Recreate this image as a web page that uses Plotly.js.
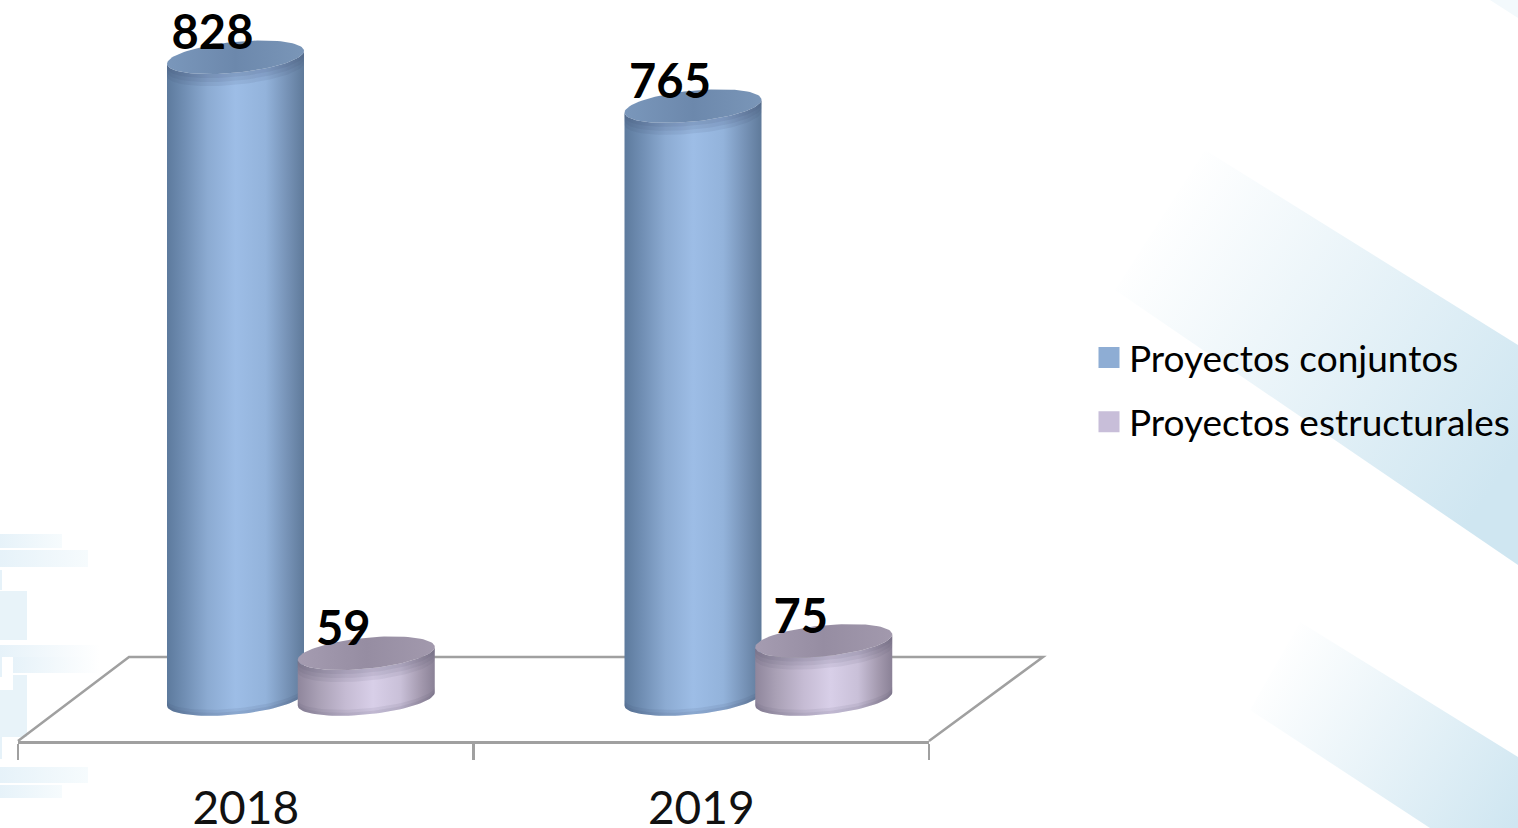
<!DOCTYPE html>
<html>
<head>
<meta charset="utf-8">
<script src="https://cdn.plot.ly/plotly-3.0.1.min.js"></script>
<style>
html,body{margin:0;padding:0;background:#fff;width:1518px;height:828px;overflow:hidden}
#bg{position:absolute;left:0;top:0}
#chart{position:absolute;left:0;top:0;width:1518px;height:828px}
</style>
</head>
<body>
<svg id="bg" width="1518" height="828" viewBox="0 0 1518 828">
<defs>
<linearGradient id="g2" gradientUnits="userSpaceOnUse" x1="1160" y1="208" x2="1518" y2="450">
<stop offset="0" stop-color="#ffffff"/><stop offset="1" stop-color="#cfe6f1"/></linearGradient>
<linearGradient id="g3" gradientUnits="userSpaceOnUse" x1="1272" y1="658" x2="1518" y2="820">
<stop offset="0" stop-color="#ffffff"/><stop offset="1" stop-color="#cfe6f1"/></linearGradient>
<linearGradient id="gl" x1="0" y1="0" x2="1" y2="0">
<stop offset="0" stop-color="#e6f2f9"/><stop offset="1" stop-color="#f6fbfd"/></linearGradient>
<linearGradient id="gl2" x1="0" y1="0" x2="1" y2="0">
<stop offset="0" stop-color="#e6f2f9"/><stop offset="1" stop-color="#ffffff"/></linearGradient>
</defs>
<polygon points="1205,150 1518,345 1518,565 1115,290" fill="url(#g2)"/>
<polygon points="1300,622 1518,757 1518,828 1430,828 1250,710" fill="url(#g3)"/>
<polygon points="1490,0 1518,0 1518,18" fill="#f3f9fc"/>
<rect x="0" y="534" width="62" height="14" fill="url(#gl)"/>
<rect x="0" y="550" width="88" height="17" fill="url(#gl)"/>
<rect x="0" y="570" width="2" height="20" fill="#e6f2f9"/>
<rect x="0" y="591" width="27" height="49" fill="#e8f3f9"/>
<rect x="0" y="645" width="100" height="12" fill="url(#gl2)"/>
<rect x="13" y="657" width="87" height="16" fill="url(#gl2)"/>
<rect x="0" y="657" width="2" height="20" fill="#e6f2f9"/>
<rect x="13" y="675" width="14" height="40" fill="#e8f3f9"/>
<rect x="0" y="690" width="27" height="47" fill="#e8f3f9"/>
<rect x="0" y="737" width="2" height="22" fill="#e6f2f9"/>
<rect x="0" y="767" width="88" height="16" fill="url(#gl)"/>
<rect x="0" y="785" width="62" height="13" fill="url(#gl)"/>
</svg>
<div id="chart"></div>
<script>
// --- data ---
const years = ["2018", "2019"];
const seriesNames = ["Proyectos conjuntos", "Proyectos estructurales"];
const proyectosConjuntos = [828, 765];
const proyectosEstructurales = [59, 75];

// --- plot frame (pixels) ---
const W = 1518, H = 828;
const plotLeft = 18, plotRight = 929, floorFront = 741, floorBack = 657;
const floorBackLeft = 129, floorBackRight = 1043;
const pxPerUnit = 0.775, zeroPx = 699;
const xRange = [-0.5, 1.5];
const yRange = [(zeroPx - floorFront) / pxPerUnit, zeroPx / pxPerUnit];
const pxPerCat = (plotRight - plotLeft) / (xRange[1] - xRange[0]);

// --- cylinder shape (pixels) ---
const radiusPx = 68.5, tiltPx = -6.5, minorPx = 15.5;
const seriesOffsetPx = [-10.25, 120.5];
const pitchPx = 457.5;
const bodyStops = [
  [["0", "#5d7a9d"], ["0.12", "#6f8db2"], ["0.3", "#8cabd2"], ["0.5", "#9dbde6"], ["0.72", "#93b3db"], ["0.88", "#7692b6"], ["1", "#5f7a9a"]],
  [["0", "#8f869c"], ["0.15", "#a9a0b5"], ["0.35", "#c5bbd3"], ["0.55", "#d8cfe8"], ["0.75", "#c9c0d8"], ["0.9", "#a399ae"], ["1", "#8a8196"]]
];
const topStops = [
  [["0", "#7a97bb"], ["0.5", "#6c88ac"], ["1", "#7a96b8"]],
  [["0", "#a59cb1"], ["0.5", "#968da2"], ["1", "#a299ad"]]
];
const rimColors = ["rgba(50,70,100,0.09)", "rgba(70,62,85,0.08)"];
const topRimDepths = [4, 8, 12];
const bottomRimDepths = [3, 6];

const scale = s => s.map(p => [parseFloat(p[0]), p[1]]);
const arc = (cx, cyVal, from, to, n) => {
  const xs = [], ys = [];
  for (let i = 0; i <= n; i++) {
    const t = from + (to - from) * i / n;
    xs.push(cx + radiusPx * Math.cos(t) / pxPerCat);
    ys.push(cyVal - (minorPx * Math.sin(t) + tiltPx * Math.cos(t)) / pxPerUnit);
  }
  return [xs, ys];
};
const catX = (c, s, extra) => (c * pitchPx + seriesOffsetPx[s] + (extra || 0)) / pxPerCat;
const band = (cx, yLow, yHigh, color) => {
  const [ax, ay] = arc(cx, yLow, Math.PI, 0, 48);
  const [bx, by] = arc(cx, yHigh, 0, Math.PI, 48);
  return {
    type: "scatter", mode: "lines", x: ax.concat(bx, [ax[0]]), y: ay.concat(by, [ay[0]]),
    fill: "toself", fillcolor: color, line: {width: 0},
    showlegend: false, hoverinfo: "skip", cliponaxis: false
  };
};

const traces = [];
const seriesValues = [proyectosConjuntos, proyectosEstructurales];
years.forEach((yr, c) => {
  seriesValues.forEach((vals, s) => {
    const cx = catX(c, s);
    const v = vals[c];
    const body = band(cx, 0, v, null);
    delete body.fillcolor;
    body.fillgradient = {type: "horizontal", colorscale: scale(bodyStops[s])};
    traces.push(body);
    bottomRimDepths.forEach(d => traces.push(band(cx, 0, d / pxPerUnit, rimColors[s])));
    topRimDepths.forEach(d => traces.push(band(cx, v - d / pxPerUnit, v, rimColors[s])));
    const [ex, ey] = arc(cx, v, 0, 2 * Math.PI, 96);
    traces.push({
      type: "scatter", mode: "lines", x: ex, y: ey,
      fill: "toself", line: {width: 0}, fillgradient: {type: "horizontal", colorscale: scale(topStops[s])},
      showlegend: false, hoverinfo: "skip", cliponaxis: false
    });
  });
});

// value labels
const labelDx = -23, labelDy = 20;
seriesValues.forEach((vals, s) => {
  traces.push({
    type: "scatter", mode: "text",
    x: years.map((_, c) => catX(c, s, labelDx)),
    y: vals.map(v => v + labelDy / pxPerUnit),
    text: vals.map(String), textposition: "middle center",
    textfont: {family: "Lato, Carlito, sans-serif", size: 47, color: "#000", weight: 700},
    showlegend: false, hoverinfo: "skip", cliponaxis: false
  });
});

// legend entries
const legendColors = ["#8eadd4", "#c8bed9"];
seriesNames.forEach((n, s) => {
  traces.push({
    type: "scatter", mode: "markers", name: n, x: [null], y: [null], legendgroup: "g" + s,
    marker: {symbol: "square", size: 16, color: legendColors[s], line: {width: 5, color: legendColors[s]}}
  });
});

const px2x = p => (p - plotLeft) / (plotRight - plotLeft);
const px2y = p => (floorFront - p) / floorFront;
const layout = {
  width: W, height: H,
  margin: {l: plotLeft, r: W - plotRight, t: 0, b: H - floorFront, autoexpand: false},
  paper_bgcolor: "rgba(0,0,0,0)", plot_bgcolor: "rgba(0,0,0,0)",
  hovermode: false,
  font: {family: "Lato, Carlito, sans-serif", color: "#000"},
  xaxis: {
    range: xRange, tickmode: "array", tickvals: [0, 1], ticktext: years,
    ticks: "", ticklabelstandoff: 25, tickfont: {size: 46, color: "#111"},
    showgrid: false, zeroline: false, showline: true, linecolor: "#a0a0a0", linewidth: 2.5,
    minor: {tickmode: "array", tickvals: [-0.5, 0.5, 1.5], ticks: "outside", ticklen: 16, tickwidth: 2.5, tickcolor: "#a0a0a0", showgrid: false}
  },
  yaxis: {range: yRange, visible: false, showgrid: false, zeroline: false},
  shapes: [
    {type: "path", xref: "paper", yref: "paper", layer: "below",
     path: `M ${px2x(plotLeft)} ${px2y(floorFront)} L ${px2x(floorBackLeft)} ${px2y(floorBack)} L ${px2x(floorBackRight)} ${px2y(floorBack)} L ${px2x(plotRight)} ${px2y(floorFront)}`,
     line: {color: "#a0a0a0", width: 2.5}}
  ],
  legend: {
    x: px2x(1089), xanchor: "left", y: px2y(327), yanchor: "top",
    bgcolor: "rgba(0,0,0,0)", borderwidth: 0, tracegroupgap: 13,
    itemwidth: 30, itemclick: false, itemdoubleclick: false,
    font: {family: "Lato, Carlito, sans-serif", size: 37, color: "#000"}
  }
};
Plotly.newPlot("chart", traces, layout, {displayModeBar: false, staticPlot: true});
</script>
</body>
</html>
